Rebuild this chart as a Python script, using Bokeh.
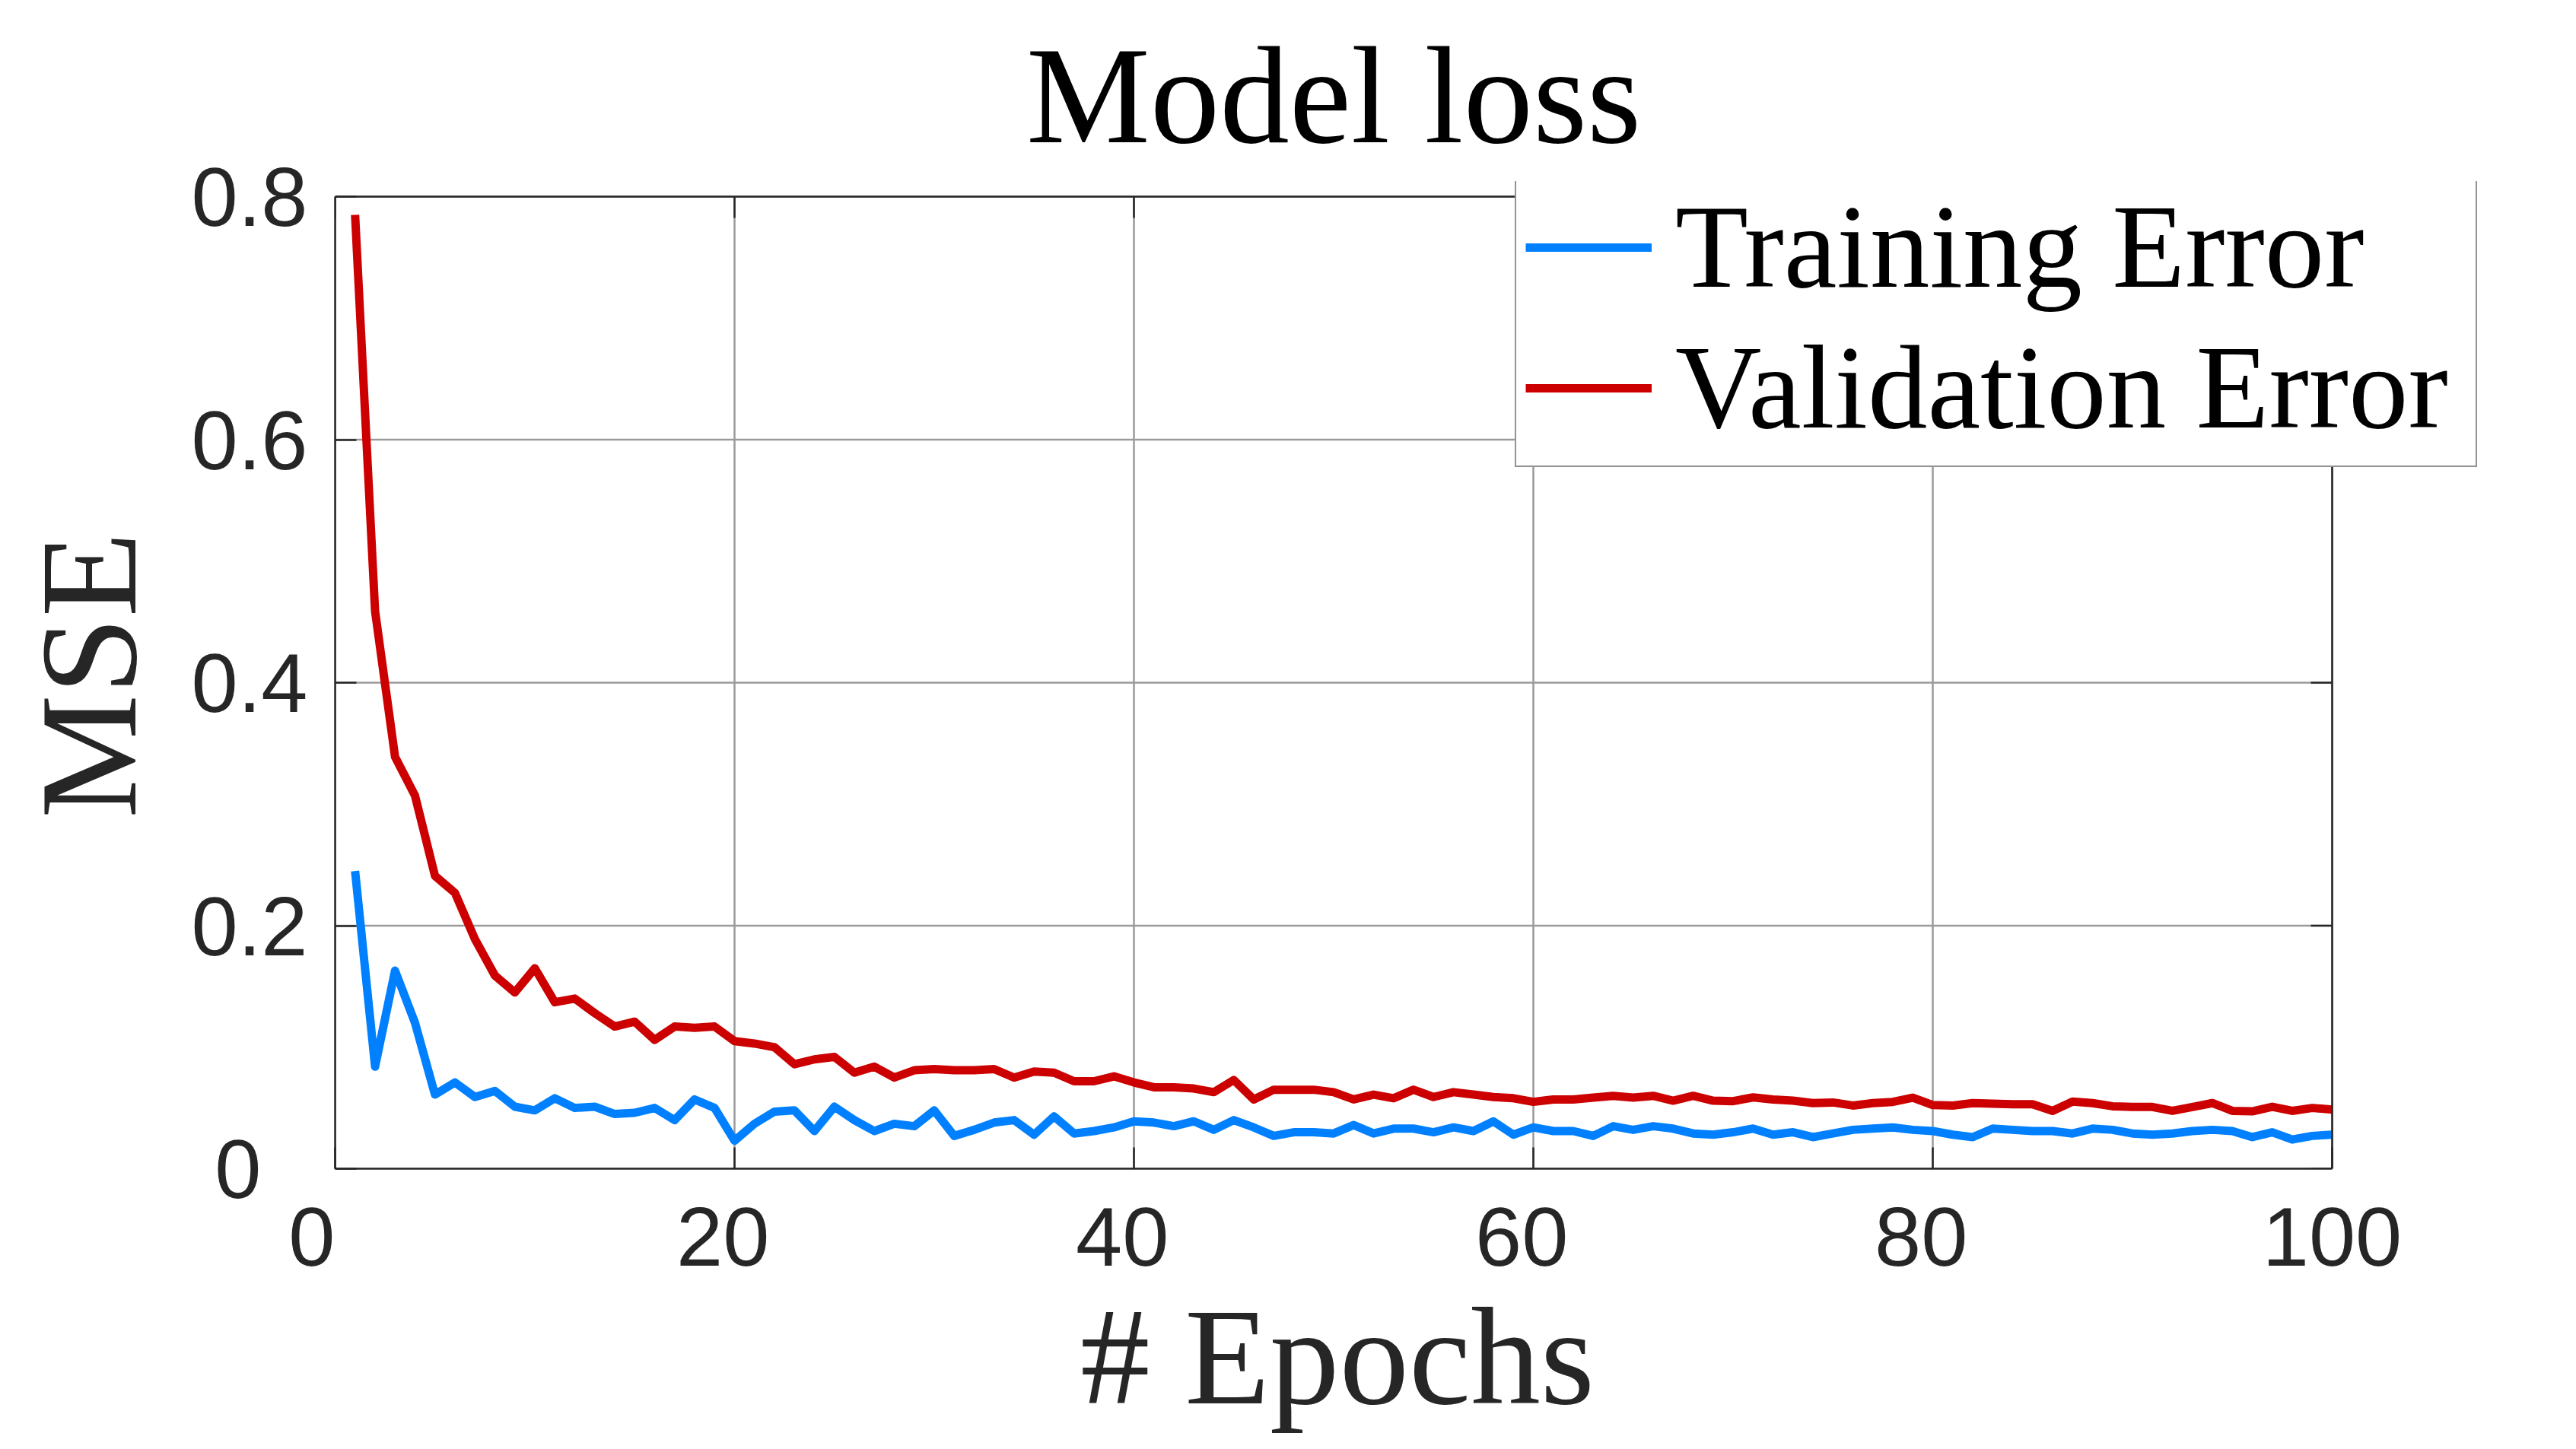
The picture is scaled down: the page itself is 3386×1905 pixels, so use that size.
import math
from bokeh.plotting import figure
from bokeh.models import FixedTicker, Legend, LegendItem, Range1d, Title
from bokeh.embed import file_html
from bokeh.resources import INLINE

epochs = list(range(1, 101))

training_error = [
    0.245, 0.084, 0.163, 0.120, 0.061, 0.071, 0.059, 0.064, 0.051, 0.048,
    0.058, 0.050, 0.051, 0.045, 0.046, 0.050, 0.040, 0.057, 0.050, 0.023,
    0.037, 0.047, 0.048, 0.031, 0.051, 0.040, 0.031, 0.037, 0.035, 0.048,
    0.027, 0.032, 0.038, 0.040, 0.028, 0.043, 0.029, 0.031, 0.034, 0.039,
    0.038, 0.035, 0.039, 0.032, 0.040, 0.034, 0.027, 0.030, 0.030, 0.029,
    0.036, 0.029, 0.033, 0.033, 0.030, 0.034, 0.031, 0.039, 0.028, 0.034,
    0.031, 0.031, 0.027, 0.035, 0.032, 0.035, 0.033, 0.029, 0.028, 0.030,
    0.033, 0.028, 0.030, 0.026, 0.029, 0.032, 0.033, 0.034, 0.032, 0.031,
    0.028, 0.026, 0.033, 0.032, 0.031, 0.031, 0.029, 0.033, 0.032, 0.029,
    0.028, 0.029, 0.031, 0.032, 0.031, 0.026, 0.030, 0.024, 0.027, 0.028,
]

validation_error = [
    0.785, 0.459, 0.339, 0.307, 0.241, 0.227, 0.189, 0.159, 0.145, 0.165,
    0.137, 0.140, 0.128, 0.117, 0.121, 0.106, 0.117, 0.116, 0.117, 0.105,
    0.103, 0.100, 0.086, 0.090, 0.092, 0.079, 0.084, 0.075, 0.081, 0.082,
    0.081, 0.081, 0.082, 0.075, 0.080, 0.079, 0.072, 0.072, 0.076, 0.071,
    0.067, 0.067, 0.066, 0.063, 0.073, 0.057, 0.065, 0.065, 0.065, 0.063,
    0.057, 0.061, 0.058, 0.065, 0.059, 0.063, 0.061, 0.059, 0.058, 0.055,
    0.057, 0.057, 0.0585, 0.060, 0.0585, 0.060, 0.056, 0.060, 0.056, 0.0556,
    0.0587, 0.057, 0.056, 0.054, 0.0545, 0.052, 0.054, 0.055, 0.0585, 0.0524,
    0.052, 0.054, 0.0535, 0.053, 0.053, 0.0476, 0.0553, 0.054, 0.0514, 0.0508,
    0.0508, 0.0476, 0.0508, 0.054, 0.0476, 0.0472, 0.051, 0.0476, 0.050, 0.0487,
]

x_ticks = [0, 20, 40, 60, 80, 100]
x_tick_labels = ["0", "20", "40", "60", "80", "100"]
y_ticks = [0, 0.2, 0.4, 0.6, 0.8]
y_tick_labels = ["0", "0.2", "0.4", "0.6", "0.8"]

series_names = ["Training Error", "Validation Error"]
series_colors = ["#0080ff", "#cc0000"]

AX = "#262626"
GRID = "#9a9a9a"
NB = "\u00a0"

# ---- layout (pixels) ----
BOX_W, BOX_H = 2625, 1278          # axes box size
EXTRA_R, EXTRA_T = 210, 20         # room for the legend that overhangs the box
LEFT, TOP = 440, 238
FRAME_W, FRAME_H = BOX_W + EXTRA_R, BOX_H + EXTRA_T
RIGHT = 3370 - LEFT - FRAME_W
BOTTOM = 1889 - TOP - FRAME_H

x_lo, x_hi = x_ticks[0], x_ticks[-1]
y_lo, y_hi = y_ticks[0], y_ticks[-1]
x_end = x_lo + (x_hi - x_lo) * FRAME_W / BOX_W
y_end = y_lo + (y_hi - y_lo) * FRAME_H / BOX_H

p = figure(
    frame_width=FRAME_W, frame_height=FRAME_H,
    x_range=Range1d(x_lo, x_end), y_range=Range1d(y_lo, y_end),
    output_backend="svg", toolbar_location=None,
    min_border_left=LEFT, min_border_right=RIGHT,
    min_border_top=TOP, min_border_bottom=BOTTOM,
    title="Model loss",
)
p.background_fill_color = "white"
p.border_fill_color = "white"
p.outline_line_color = None

p.title.text_font = "Liberation Serif"
p.title.text_font_size = "183px"
p.title.text_font_style = "normal"
p.title.text_color = "black"
p.title.align = "left"
p.title.offset = BOX_W / 2 - 404
p.title.standoff = 24

xa = p.xaxis[0]
ya = p.yaxis[0]
xa.ticker = FixedTicker(ticks=x_ticks)
ya.ticker = FixedTicker(ticks=y_ticks)
xa.bounds = (x_lo, x_hi)
ya.bounds = (y_lo, y_hi)
# like the original, the corner labels are nudged away from the axes corner
x_pad = [2, 1, 1, 1, 1, 0]
y_pad = [2, 0, 0, 0, 0]
xa.major_label_overrides = {t: l + NB * n for t, l, n in zip(x_ticks, x_tick_labels, x_pad)}
ya.major_label_overrides = {t: l + NB * n for t, l, n in zip(y_ticks, y_tick_labels, y_pad)}
for ax in (xa, ya):
    ax.major_tick_in = 28
    ax.major_tick_out = 0
    ax.minor_tick_line_color = None
    ax.axis_line_color = AX
    ax.axis_line_width = 2.5
    ax.major_tick_line_color = AX
    ax.major_tick_line_width = 2.5
    ax.major_label_text_font = "Liberation Sans"
    ax.major_label_text_font_size = "110px"
    ax.major_label_text_color = AX
    ax.axis_label_text_font = "Liberation Serif"
    ax.axis_label_text_font_size = "183px"
    ax.axis_label_text_font_style = "normal"
    ax.axis_label_text_color = AX
ya.axis_label = "MSE"
xa.major_label_standoff = 27
ya.major_label_standoff = 36
ya.axis_label_standoff = 31

# x-axis label centred under the axes box (the frame is wider because of the legend)
xlabel = Title(
    text="# Epochs", align="left", vertical_align="top",
    offset=BOX_W / 2 - 333, standoff=-16,
    text_font="Liberation Serif", text_font_size="183px",
    text_font_style="normal", text_color=AX,
)
p.add_layout(xlabel, "below")

p.xgrid.visible = False
p.ygrid.visible = False

# grid lines limited to the axes box
p.segment(x0=x_ticks, y0=[y_lo] * len(x_ticks), x1=x_ticks, y1=[y_hi] * len(x_ticks),
          line_color=GRID, line_width=2.5, level="underlay")
p.segment(x0=[x_lo] * len(y_ticks), y0=y_ticks, x1=[x_hi] * len(y_ticks), y1=y_ticks,
          line_color=GRID, line_width=2.5, level="underlay")

renderers = []
for vals, color in zip([training_error, validation_error], series_colors):
    r = p.line(epochs, vals, line_color=color, line_width=11, line_join="round")
    renderers.append(r)

# top and right edges of the box, with inward ticks
p.segment(x0=[x_lo, x_hi], y0=[y_hi, y_lo], x1=[x_hi, x_hi], y1=[y_hi, y_hi],
          line_color=AX, line_width=2.5)
p.ray(x=x_ticks, y=[y_hi] * len(x_ticks), length=28, length_units="screen",
      angle=-math.pi / 2, line_color=AX, line_width=2.5)
p.ray(x=[x_hi] * len(y_ticks), y=y_ticks, length=28, length_units="screen",
      angle=math.pi, line_color=AX, line_width=2.5)

legend = Legend(
    items=[LegendItem(label=n, renderers=[r]) for n, r in zip(series_names, renderers)],
    location=(1551, 922),
    padding=12, spacing=4, margin=0,
    glyph_width=166, glyph_height=172,
    label_height=172, label_width=1040, label_standoff=31,
    label_text_font="Liberation Serif", label_text_font_size="157px",
    label_text_color="black",
    border_line_color=AX, border_line_width=2.5,
    background_fill_color="white", background_fill_alpha=1.0,
)
p.add_layout(legend)

open("out.html", "w").write(file_html(p, INLINE))
